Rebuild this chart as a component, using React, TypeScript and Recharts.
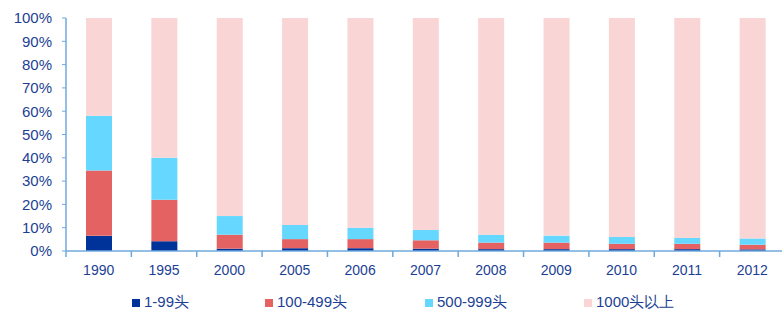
import { BarChart, Bar, XAxis, YAxis, Legend } from 'recharts'

const years = ['1990', '1995', '2000', '2005', '2006', '2007', '2008', '2009', '2010', '2011', '2012']
const herd1to99 = [6.5, 4.2, 1.0, 1.2, 1.2, 1.0, 0.8, 0.8, 0.8, 0.8, 0.7]
const herd100to499 = [28.0, 17.8, 6.0, 3.9, 3.9, 3.6, 2.8, 2.8, 2.3, 2.3, 2.0]
const herd500to999 = [23.5, 18.0, 8.0, 6.1, 4.9, 4.4, 3.4, 3.0, 2.9, 2.5, 2.7]
const herd1000plus = [42.0, 60.0, 85.0, 88.8, 90.0, 91.0, 93.0, 93.4, 94.0, 94.4, 94.6]
const yTicks = [0, 10, 20, 30, 40, 50, 60, 70, 80, 90, 100]

const series = [
  { key: 'a', name: '1-99头', color: '#003399' },
  { key: 'b', name: '100-499头', color: '#e46262' },
  { key: 'c', name: '500-999头', color: '#66d8ff' },
  { key: 'd', name: '1000头以上', color: '#f9d5d5' },
]

const data = years.map((year, i) => ({
  year,
  a: herd1to99[i],
  b: herd100to499[i],
  c: herd500to999[i],
  d: herd1000plus[i],
}))

const AXIS = '#6fa8dc'
const TEXT = '#1c3f94'
const FONT = '"Liberation Sans", Arial, sans-serif'

// tick marks sit between categories, not under the bars
const XTick = (props: any) => {
  const { x, y, payload, index, visibleTicksCount } = props
  const half = payload && payload.offset ? payload.offset : 32.7
  const last = index === visibleTicksCount - 1
  return (
    <g>
      <line x1={x - half} x2={x - half} y1={y} y2={y + 6} stroke={AXIS} strokeWidth={1.5} />
      {last && <line x1={x + half} x2={x + half} y1={y} y2={y + 6} stroke={AXIS} strokeWidth={1.5} />}
      <text x={x} y={y + 24} textAnchor="middle" fill={TEXT} fontSize={14} fontFamily={FONT}>
        {payload.value}
      </text>
    </g>
  )
}

const legendLeft = [132, 265, 425, 584]

const LegendBox = () => (
  <div style={{ position: 'relative', height: 30, fontFamily: FONT, fontSize: 15, color: TEXT }}>
    {series.map((s, i) => (
      <div key={s.key} style={{ position: 'absolute', left: legendLeft[i], top: 4, display: 'flex', alignItems: 'center' }}>
        <span style={{ width: 8, height: 8, background: s.color, display: 'inline-block', marginRight: 4 }} />
        <span>{s.name}</span>
      </div>
    ))}
  </div>
)

export default function App() {
  return (
    <div style={{ position: 'absolute', left: 0, top: 0, width: 782, height: 311, background: '#fff' }}>
      <BarChart
        width={782}
        height={311}
        data={data}
        barSize={26}
        margin={{ top: 18, right: -3, left: 0, bottom: 0 }}
      >
        <XAxis
          dataKey="year"
          height={30}
          axisLine={{ stroke: AXIS, strokeWidth: 1.5 }}
          tickLine={false}
          tickSize={0}
          tickMargin={0}
          tick={<XTick />}
          interval={0}
        />
        <YAxis
          width={66}
          domain={[0, 100]}
          ticks={yTicks}
          tickFormatter={(v) => `${v}%`}
          axisLine={{ stroke: AXIS, strokeWidth: 1.5 }}
          tickLine={{ stroke: AXIS }}
          tickSize={4}
          tickMargin={10}
          tick={{ fill: TEXT, fontSize: 15, fontFamily: FONT }}
          interval={0}
        />
        <Legend
          verticalAlign="bottom"
          height={30}
          content={<LegendBox />}
          wrapperStyle={{ left: 0, top: 289, width: 782 }}
        />
        {series.map((s) => (
          <Bar key={s.key} dataKey={s.key} name={s.name} stackId="x" fill={s.color} isAnimationActive={false} />
        ))}
      </BarChart>
    </div>
  )
}
